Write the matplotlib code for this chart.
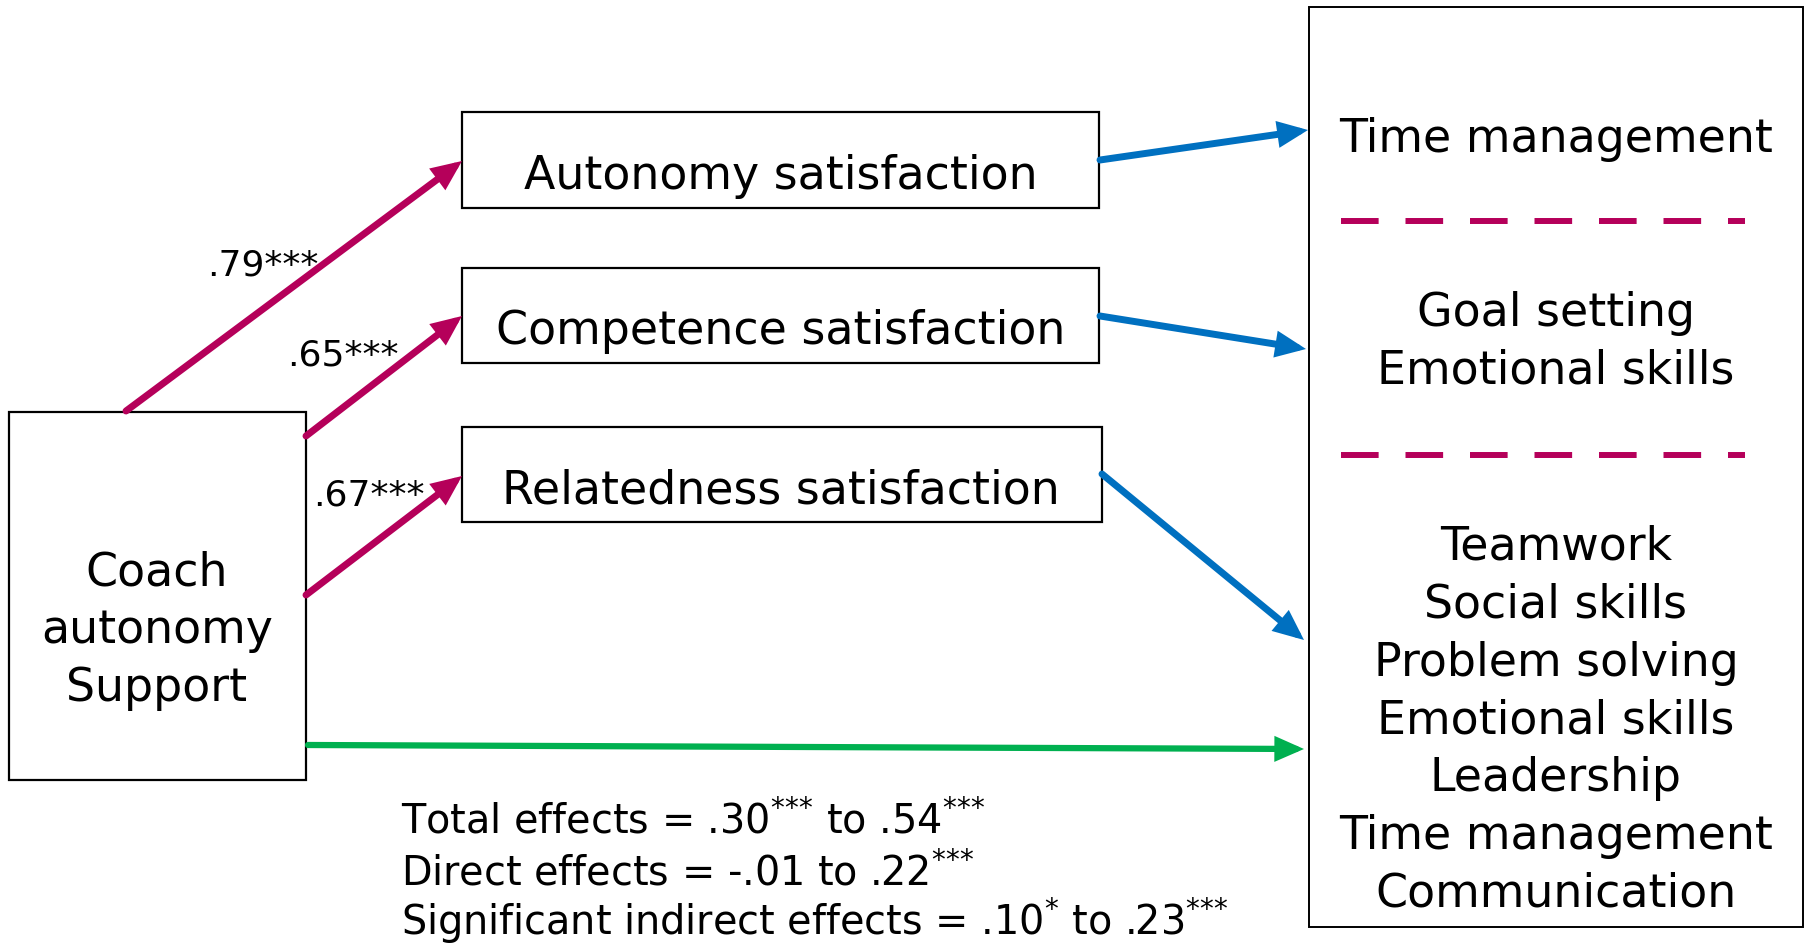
import matplotlib
matplotlib.use("Agg")
import matplotlib.pyplot as plt
from matplotlib.patches import Rectangle

plt.rcParams["font.family"] = ["DejaVu Sans"]

# ------------------------------------------------------------------
# Diagram content
# ------------------------------------------------------------------
predictor = "Coach\nautonomy\nSupport"
mediators = ["Autonomy satisfaction", "Competence satisfaction", "Relatedness satisfaction"]
path_coefs = [".79***", ".65***", ".67***"]
outcome_groups = [
    ["Time management"],
    ["Goal setting", "Emotional skills"],
    ["Teamwork", "Social skills", "Problem solving", "Emotional skills",
     "Leadership", "Time management", "Communication"],
]
# {*} groups keep mathtext from spacing the stars like operators
effect_lines = [
    r"Total effects = .30$^{{*}{*}{*}}$ to .54$^{{*}{*}{*}}$",
    r"Direct effects = -.01 to .22$^{{*}{*}{*}}$",
    r"Significant indirect effects = .10$^{{*}}$ to .23$^{{*}{*}{*}}$",
]

MAGENTA = "#B5005A"
BLUE = "#0070C0"
GREEN = "#00B050"

W, H = 1808, 945
fig = plt.figure(figsize=(W / 100, H / 100), dpi=100)
ax = fig.add_axes([0, 0, 1, 1])
ax.set_xlim(0, W)
ax.set_ylim(H, 0)
ax.axis("off")


def box(x0, y0, x1, y1, lw=1.6):
    ax.add_patch(Rectangle((x0, y0), x1 - x0, y1 - y0, fill=False,
                           edgecolor="black", lw=lw, zorder=2))


def arrow(p0, p1, color, lw=5):
    ax.annotate("", xy=p1, xytext=p0,
                arrowprops=dict(arrowstyle="-|>,head_length=0.5,head_width=0.22",
                                mutation_scale=27, lw=lw, color=color,
                                shrinkA=0, shrinkB=0, joinstyle="miter"),
                zorder=3)


# boxes
box(9, 413, 306, 781)
med_boxes = [(462, 113, 1099, 209), (462, 269, 1099, 364), (462, 428, 1102, 523)]
for b in med_boxes:
    box(*b)
box(1309, 8, 1803, 928, lw=1.4)

# predictor label
for i, line in enumerate(predictor.split("\n")):
    ax.text(157, 585 + i * 58, line, fontsize=33, ha="center", va="baseline")

# mediator labels
med_baselines = [189, 344, 503]
for name, yb in zip(mediators, med_baselines):
    ax.text(781, yb, name, fontsize=33, ha="center", va="baseline")

# a-paths
a_paths = [((126, 412), (462, 162)), ((306, 437), (462, 317)), ((306, 596), (462, 477))]
for (p0, p1) in a_paths:
    arrow(p0, p1, MAGENTA)
coef_pos = [(207, 275), (287, 366), (313, 505)]
for txt, (x, y) in zip(path_coefs, coef_pos):
    ax.text(x, y, txt, fontsize=26, ha="left", va="baseline")

# b-paths
b_paths = [((1100, 161), (1308, 131)), ((1100, 317), (1306, 350)), ((1102, 475), (1304, 641))]
for (p0, p1) in b_paths:
    arrow(p0, p1, BLUE)

# direct path
arrow((308, 746), (1304, 750), GREEN, lw=4.5)

# outcomes
group_baselines = [[152], [326, 384], [560 + i * 57.8 for i in range(7)]]
for group, ys in zip(outcome_groups, group_baselines):
    for line, yb in zip(group, ys):
        ax.text(1556, yb, line, fontsize=33, ha="center", va="baseline")

for yd in [222, 456]:
    ax.plot([1341, 1745], [yd, yd], color=MAGENTA, lw=4.3,
            dashes=(6.3, 4.5), solid_capstyle="butt", dash_capstyle="butt")

# effect summary
for txt, yb in zip(effect_lines, [833, 885, 935]):
    ax.text(401, yb, txt, fontsize=28.6, ha="left", va="baseline")

fig.savefig("out.png", dpi=100)
